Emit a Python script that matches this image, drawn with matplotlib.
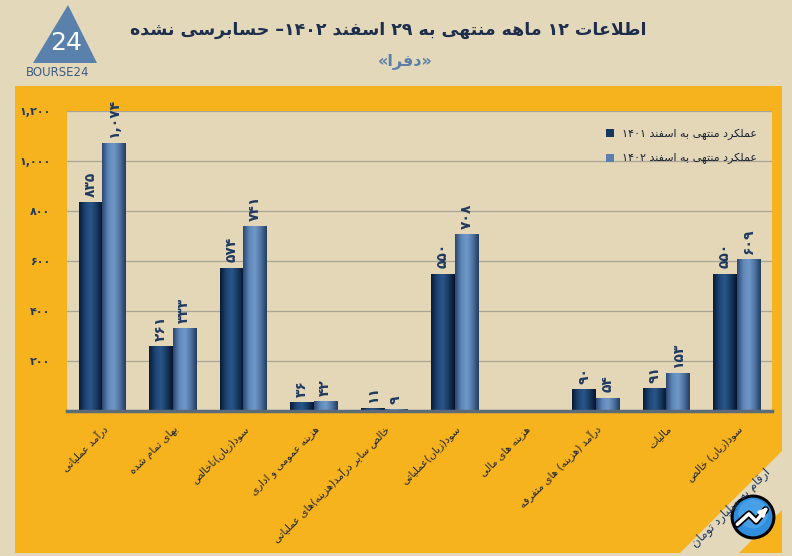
import re
import numpy as np
import matplotlib
matplotlib.use("Agg")
import matplotlib.pyplot as plt
from matplotlib.patches import Rectangle, Polygon, Circle
from matplotlib.colors import LinearSegmentedColormap

plt.rcParams['font.family'] = ['DejaVu Sans']

# ---------------- data ----------------
categories = [
    "درآمد عملیاتی",
    "بهای تمام شده",
    "سود(زیان)ناخالص",
    "هزینه عمومی و اداری",
    "خالص سایر درآمد(هزینه)های عملیاتی",
    "سود(زیان)عملیاتی",
    "هزینه های مالی",
    "درآمد (هزینه) های متفرقه",
    "مالیات",
    "سود(زیان) خالص",
]
values_1401 = [835, 261, 574, 36, 11, 550, 0, 90, 91, 550]
values_1402 = [1074, 333, 741, 42, 9, 708, 0, 54, 153, 609]
series_names = ["عملکرد منتهی به اسفند ۱۴۰۱", "عملکرد منتهی به اسفند ۱۴۰۲"]
y_ticks = [0, 200, 400, 600, 800, 1000, 1200]
title = "اطلاعات ۱۲ ماهه منتهی به ۲۹ اسفند ۱۴۰۲– حسابرسی نشده"
subtitle = "«دفرا»"
unit_note = "ارقام به میلیارد تومان"

# ---------------- Persian shaping helpers ----------------
def _r(a, b):
    return tuple(range(a, b + 1))

FORMS = {
    'ا': (0xFE8D, 0xFE8E), 'آ': (0xFE81, 0xFE82), 'د': (0xFEA9, 0xFEAA),
    'ذ': (0xFEAB, 0xFEAC), 'ر': (0xFEAD, 0xFEAE), 'ز': (0xFEAF, 0xFEB0),
    'ژ': (0xFB8A, 0xFB8B), 'و': (0xFEED, 0xFEEE), 'ة': (0xFE93, 0xFE94),
    'ب': _r(0xFE8F, 0xFE92), 'پ': _r(0xFB56, 0xFB59), 'ت': _r(0xFE95, 0xFE98),
    'ث': _r(0xFE99, 0xFE9C), 'ج': _r(0xFE9D, 0xFEA0), 'چ': _r(0xFB7A, 0xFB7D),
    'ح': _r(0xFEA1, 0xFEA4), 'خ': _r(0xFEA5, 0xFEA8), 'س': _r(0xFEB1, 0xFEB4),
    'ش': _r(0xFEB5, 0xFEB8), 'ص': _r(0xFEB9, 0xFEBC), 'ض': _r(0xFEBD, 0xFEC0),
    'ط': _r(0xFEC1, 0xFEC4), 'ظ': _r(0xFEC5, 0xFEC8), 'ع': _r(0xFEC9, 0xFECC),
    'غ': _r(0xFECD, 0xFED0), 'ف': _r(0xFED1, 0xFED4), 'ق': _r(0xFED5, 0xFED8),
    'ک': _r(0xFB8E, 0xFB91), 'گ': _r(0xFB92, 0xFB95), 'ل': _r(0xFEDD, 0xFEE0),
    'م': _r(0xFEE1, 0xFEE4), 'ن': _r(0xFEE5, 0xFEE8), 'ه': _r(0xFEE9, 0xFEEC),
    'ی': _r(0xFBFC, 0xFBFF), 'ي': _r(0xFEF1, 0xFEF4),
}
MIRROR = {'(': ')', ')': '(', '«': '»', '»': '«'}


def _dual(c):
    return c in FORMS and len(FORMS[c]) == 4


def shape(s):
    res = []
    i, n = 0, len(s)
    while i < n:
        c = s[i]
        if c in FORMS:
            prev = s[i - 1] if i > 0 else ''
            pj = _dual(prev)
            if c == 'ل' and i + 1 < n and s[i + 1] in 'اآ':
                iso, fin = (0xFEFB, 0xFEFC) if s[i + 1] == 'ا' else (0xFEF5, 0xFEF6)
                res.append(chr(fin if pj else iso))
                i += 2
                continue
            nxt = s[i + 1] if i + 1 < n else ''
            nj = nxt in FORMS
            f = FORMS[c]
            if len(f) == 4:
                g = f[3] if (pj and nj) else f[1] if pj else f[2] if nj else f[0]
            else:
                g = f[1] if pj else f[0]
            res.append(chr(g))
        else:
            res.append(c)
        i += 1
    t = ''.join(res)
    parts = re.split(r'([0-9۰-۹A-Za-z][0-9۰-۹A-Za-z,.]*)', t)
    out = []
    for k, p in enumerate(parts):
        if k % 2 == 1:
            out.append(p)
        else:
            out.append(''.join(MIRROR.get(ch, ch) for ch in p[::-1]))
    return ''.join(out[::-1])


FA = str.maketrans('0123456789', '۰۱۲۳۴۵۶۷۸۹')


def fa(v):
    return f"{v:,}".translate(FA)


# ---------------- figure ----------------
W, H = 792, 556
NAVY = '#1f3a5f'
fig = plt.figure(figsize=(W / 100, H / 100), dpi=100)
fig.patch.set_facecolor('#e4d8bb')


def fx(x):
    return x / W


def fy(y):
    return 1 - y / H


# orange panel
fig.add_artist(Rectangle((fx(15), fy(553)), fx(782) - fx(15), fy(86) - fy(553),
                         transform=fig.transFigure, facecolor='#f6b31d',
                         edgecolor='none', zorder=-2))
# diagonal beige band lower right
fig.add_artist(Polygon([(fx(680), fy(553)), (fx(782), fy(451)),
                        (fx(782), fy(510)), (fx(739), fy(553))],
                       closed=True, transform=fig.transFigure,
                       facecolor='#e4d8bb', edgecolor='none', zorder=-1))

ax = fig.add_axes([fx(67), fy(411), fx(772) - fx(67), fy(111) - fy(411)])
ax.set_facecolor('#e3d7b8')

n = len(categories)
x = np.arange(n)
bw = 0.33
bars1 = ax.bar(x - bw / 2, values_1401, bw, color='#17375f', zorder=2,
               label=shape(series_names[0]))
bars2 = ax.bar(x + bw / 2, values_1402, bw, color='#5a7fae', zorder=2,
               label=shape(series_names[1]))

cm_dark = LinearSegmentedColormap.from_list(
    'd', ['#081a33', '#1d4474', '#2a568a', '#17395f', '#06142a'])
cm_light = LinearSegmentedColormap.from_list(
    'l', ['#2a4670', '#5e86b8', '#7198c7', '#4e73a1', '#233b5e'])
grad = np.linspace(0, 1, 64).reshape(1, -1)
for bars, cm in ((bars1, cm_dark), (bars2, cm_light)):
    for p in bars:
        h = p.get_height()
        if h <= 0:
            continue
        x0 = p.get_x()
        w = p.get_width()
        im = ax.imshow(grad, extent=(x0, x0 + w, 0, h), cmap=cm,
                       aspect='auto', zorder=2.5, interpolation='bicubic')
        im.set_clip_path(p)

# value labels
for bars, vals in ((bars1, values_1401), (bars2, values_1402)):
    for p, v in zip(bars, vals):
        if v <= 0:
            continue
        ax.text(p.get_x() + p.get_width() / 2, v + 20, fa(v), rotation=90,
                ha='center', va='bottom', fontsize=10, fontweight='bold',
                color=NAVY, zorder=4)

ax.set_xlim(-0.5, n - 0.5)
ax.set_ylim(0, 1200)
ax.set_yticks(y_ticks)
ax.set_yticklabels([''] + [fa(v) for v in y_ticks[1:]])
for lbl in ax.get_yticklabels():
    lbl.set_fontweight('bold')
ax.tick_params(axis='y', length=0, pad=12, labelcolor=NAVY, labelsize=8)

ax.set_xticks(x)
ax.set_xticklabels([shape(c) for c in categories], rotation=45, ha='right',
                   va='top', rotation_mode='anchor', fontsize=7.5,
                   color='#1a2233')
ax.tick_params(axis='x', length=0, pad=9)

ax.yaxis.grid(True, color='#a9a594', lw=0.9)
ax.set_axisbelow(True)
for s in ('top', 'right', 'left'):
    ax.spines[s].set_visible(False)
ax.spines['bottom'].set_color('#5b6b78')
ax.spines['bottom'].set_linewidth(2.5)

leg = ax.legend(loc='upper left', bbox_to_anchor=(0.75, 0.975), frameon=False,
                fontsize=8, handlelength=0.7, handleheight=0.7,
                handletextpad=0.8, labelspacing=1.2, labelcolor='#1a2233')

# title
fig.text(fx(388), fy(30), shape(title), ha='center', va='center',
         fontsize=12.5, fontweight='bold', color='#1c2e4c')
fig.text(fx(405), fy(62), shape(subtitle), ha='center', va='center',
         fontsize=11.5, fontweight='bold', color='#5a7ea8')

# logo top left
fig.add_artist(Polygon([(fx(33), fy(63)), (fx(97), fy(63)), (fx(68), fy(5))],
                       closed=True, transform=fig.transFigure,
                       facecolor='#5a80ac', edgecolor='none'))
fig.text(fx(66), fy(43), '24', ha='center', va='center', fontsize=18,
         color='white')
fig.text(fx(58), fy(73), 'BOURSE24', ha='center', va='center', fontsize=8.5,
         color='#3d5c85')

# unit note on band
fig.text(fx(731), fy(508), shape(unit_note), rotation=45, ha='center',
         va='center', rotation_mode='anchor', fontsize=8.5, color=NAVY,
         zorder=3)

# round logo lower right
lax = fig.add_axes([fx(730), fy(540), fx(776) - fx(730), fy(494) - fy(540)])
lax.set_xlim(-1.1, 1.1)
lax.set_ylim(-1.1, 1.1)
lax.set_aspect('equal')
lax.axis('off')
lax.add_patch(Circle((0, 0), 1, facecolor='#2f8fdc', edgecolor='black', lw=2.2))
lax.add_patch(Circle((0, 0.15), 0.7, facecolor='#58aaf0', edgecolor='none', alpha=0.6))
lax.plot([-0.75, -0.2, 0.15, 0.6], [-0.35, 0.15, -0.2, 0.35], color='black',
         lw=5, solid_capstyle='round')
lax.plot([-0.75, -0.2, 0.15, 0.6], [-0.35, 0.15, -0.2, 0.35], color='white',
         lw=2.5, solid_capstyle='round')
lax.annotate('', xy=(0.8, 0.55), xytext=(0.5, 0.25),
             arrowprops=dict(arrowstyle='-|>', color='white', lw=2.5))

fig.savefig('out.png', dpi=100, facecolor=fig.get_facecolor())
